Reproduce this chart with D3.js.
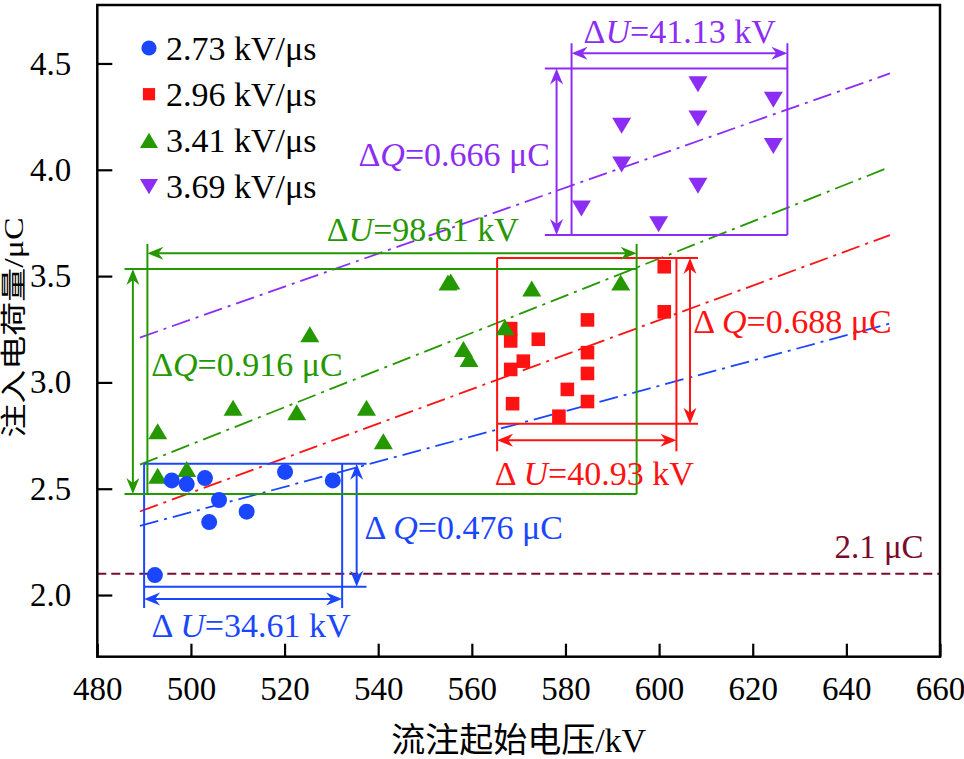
<!DOCTYPE html>
<html><head><meta charset="utf-8">
<script src="https://cdn.jsdelivr.net/npm/d3@7"></script>
<style>body{margin:0;background:#fff}svg{display:block}</style>
</head><body>
<script>
// ---------- data ----------
const seriesNames = ["2.73 kV/μs", "2.96 kV/μs", "3.41 kV/μs", "3.69 kV/μs"];
const blueU = [492.3, 495.9, 499.1, 503.0, 506.0, 503.9, 511.9, 520.1, 530.3];
const blueQ = [2.094, 2.539, 2.522, 2.550, 2.447, 2.343, 2.392, 2.579, 2.539];
const redU = [601.1, 601.1, 568.3, 568.3, 574.2, 584.7, 584.7, 571.0, 568.3, 584.7, 580.4, 568.7, 584.7, 578.6];
const redQ = [3.544, 3.332, 3.253, 3.195, 3.203, 3.294, 3.140, 3.100, 3.061, 3.042, 2.967, 2.900, 2.910, 2.841];
const greenU = [492.9, 492.9, 499.1, 509.0, 522.6, 525.4, 537.5, 541.1, 554.9, 555.5, 558.2, 559.4, 567.1, 572.8, 591.8];
const greenQ = [2.770, 2.561, 2.593, 2.881, 2.860, 3.226, 2.881, 2.723, 3.470, 3.475, 3.157, 3.110, 3.259, 3.442, 3.470];
const purpleU = [608.3, 624.4, 592.0, 608.3, 624.4, 592.0, 608.3, 583.4, 599.9];
const purpleQ = [4.402, 4.329, 4.207, 4.241, 4.112, 4.025, 3.925, 3.818, 3.744];
// fitted trend lines [U, Q] endpoints
const fitBlue = [[489.1, 2.325], [649.3, 3.277]];
const fitRed = [[489.1, 2.393], [649.3, 3.693]];
const fitGreen = [[489.1, 2.613], [649.3, 4.013]];
const fitPurple = [[489.1, 3.211], [649.3, 4.453]];
// ranges marked by boxes: [U0, U1], [Q0, Q1]
const boxBlueU = [490.0, 532.3], boxBlueQ = [2.039, 2.617];
const boxRedU = [565.4, 603.7], boxRedQ = [2.805, 3.585];
const boxGreenU = [490.7, 595.2], boxGreenQ = [2.475, 3.533];
const boxPurpleU = [581.3, 627.4], boxPurpleQ = [3.693, 4.476];
const thresholdQ = 2.1;
const xTicks = [480, 500, 520, 540, 560, 580, 600, 620, 640, 660];
const yTicks = [2.0, 2.5, 3.0, 3.5, 4.0, 4.5];
const xTitle = "流注起始电压/kV";
const yTitle = "注入电荷量/μC";

// ---------- setup ----------
const W = 964, H = 759;
const FONT = "'Liberation Serif','Times New Roman','Noto Sans CJK SC',serif";
const C = {blue: "#1a46ff", red: "#ff1212", green: "#259800", purple: "#8b2df5", dark: "#7c0a2c"};
const svg = d3.select("body").append("svg").attr("width", W).attr("height", H)
  .style("font-family", FONT);
const L = 97.3, R = 940, T = 5, B = 656.7;
const x = d3.scaleLinear().domain([480, 660]).range([L, R]);
const y = d3.scaleLinear().domain([1.71, 4.775]).range([B, T]);

// threshold line
svg.append("line").attr("x1", L).attr("x2", R).attr("y1", y(thresholdQ)).attr("y2", y(thresholdQ))
  .attr("stroke", C.dark).attr("stroke-width", 2).attr("stroke-dasharray", "9,5");
svg.append("text").attr("x", x(656.5)).attr("y", y(2.175)).attr("text-anchor", "end")
  .attr("font-size", 33).attr("fill", C.dark).text("2.1 μC");

// trend lines
const line = d3.line().x(d => x(d[0])).y(d => y(d[1]));
[[fitBlue, C.blue], [fitRed, C.red], [fitGreen, C.green], [fitPurple, C.purple]].forEach(([d, c]) => {
  svg.append("path").datum(d).attr("d", line).attr("fill", "none").attr("stroke", c)
    .attr("stroke-width", 1.8).attr("stroke-dasharray", "19,6,3,6");
});

// arrowhead: tip at (tx,ty), direction angle in degrees
function arrowHead(g, tx, ty, ang, c) {
  g.append("path").attr("d", "M0,0 L-16,-6.5 L-11,0 L-16,6.5 Z")
    .attr("transform", `translate(${tx},${ty}) rotate(${ang})`).attr("fill", c);
}
function seg(g, x1, y1, x2, y2, c) {
  g.append("line").attr("x1", x1).attr("y1", y1).attr("x2", x2).attr("y2", y2)
    .attr("stroke", c).attr("stroke-width", 2);
}
// box annotation
function box(uR, qR, c, o) {
  const g = svg.append("g");
  const X0 = x(uR[0]), X1 = x(uR[1]), Y0 = y(qR[0]), Y1 = y(qR[1]);
  const ua = y(o.uArrowQ), ue = y(o.uExtQ), qa = x(o.qArrowU), qe = x(o.qExtU);
  const vTop = Math.min(Y1, ue), vBot = Math.max(Y0, ue);
  seg(g, X0, vTop, X0, vBot, c); seg(g, X1, vTop, X1, vBot, c);
  const hL = Math.min(X0, qe), hR = Math.max(X1, qe);
  seg(g, hL, Y0, hR, Y0, c); seg(g, hL, Y1, hR, Y1, c);
  seg(g, X0 + 4, ua, X1 - 4, ua, c);
  arrowHead(g, X0, ua, 180, c); arrowHead(g, X1, ua, 0, c);
  seg(g, qa, Y1 + 4, qa, Y0 - 4, c);
  arrowHead(g, qa, Y1, -90, c); arrowHead(g, qa, Y0, 90, c);
}
box(boxBlueU, boxBlueQ, C.blue, {uArrowQ: 1.981, uExtQ: 1.939, qArrowU: 535.4, qExtU: 537.5});
box(boxRedU, boxRedQ, C.red, {uArrowQ: 2.728, uExtQ: 2.676, qArrowU: 606.6, qExtU: 608.3});
box(boxGreenU, boxGreenQ, C.green, {uArrowQ: 3.607, uExtQ: 3.651, qArrowU: 487.6, qExtU: 485.8});
box(boxPurpleU, boxPurpleQ, C.purple, {uArrowQ: 4.548, uExtQ: 4.595, qArrowU: 578.1, qExtU: 575.6});

// annotation labels
function label(px, py, anchor, c, sym, val, gap) {
  const t = svg.append("text").attr("x", px).attr("y", py).attr("text-anchor", anchor)
    .attr("font-size", 34).attr("fill", c);
  t.append("tspan").text("Δ" + (gap ? "\u2009" : ""));
  t.append("tspan").attr("font-style", "italic").text(sym);
  t.append("tspan").text("=" + val);
}
label(x(604.4), y(4.598), "middle", C.purple, "U", "41.13 kV", false);
label(x(576.7), y(4.019), "end", C.purple, "Q", "0.666 μC", false);
label(x(529.0), y(3.667), "start", C.green, "U", "98.61 kV", false);
label(x(491.5), y(3.030), "start", C.green, "Q", "0.916 μC", false);
label(x(607.3), y(3.231), "start", C.red, "Q", "0.688 μC", true);
label(x(564.9), y(2.519), "start", C.red, "U", "40.93 kV", true);
label(x(537.1), y(2.264), "start", C.blue, "Q", "0.476 μC", true);
label(x(491.6), y(1.803), "start", C.blue, "U", "34.61 kV", true);

// markers
const shapes = {
  circle: "M8,0A8,8 0 1,1 -8,0A8,8 0 1,1 8,0Z",
  square: "M-6.8,-6.8H6.8V6.8H-6.8Z",
  up: "M0,-8L9.5,8H-9.5Z",
  down: "M0,8L9.5,-8H-9.5Z"
};
function pts(U, Q, shape, c) {
  svg.append("g").selectAll("path").data(U.map((u, i) => [u, Q[i]])).join("path")
    .attr("d", shapes[shape]).attr("fill", c)
    .attr("transform", d => `translate(${x(d[0])},${y(d[1])})`);
}
pts(redU, redQ, "square", C.red);
pts(greenU, greenQ, "up", C.green);
pts(blueU, blueQ, "circle", C.blue);
pts(purpleU, purpleQ, "down", C.purple);

// legend
const legShapes = ["circle", "square", "up", "down"], legColors = [C.blue, C.red, C.green, C.purple];
seriesNames.forEach((n, i) => {
  const cy = 48 + i * 46.2;
  svg.append("path").attr("d", shapes[legShapes[i]]).attr("fill", legColors[i])
    .attr("transform", `translate(149,${cy}) scale(${legShapes[i] === "square" ? 0.9 : 0.95})`);
  svg.append("text").attr("x", 166).attr("y", cy + 11.5).attr("font-size", 34).attr("fill", "#000").text(n);
});

// frame and axes
svg.append("rect").attr("x", L).attr("y", T).attr("width", R - L).attr("height", B - T)
  .attr("fill", "none").attr("stroke", "#000").attr("stroke-width", 2.5);
const xAxis = d3.axisBottom(x).tickValues(xTicks).tickSize(-13).tickPadding(20).tickFormat(d3.format("d"));
const gx = svg.append("g").attr("transform", `translate(0,${B})`).call(xAxis);
const yAxis = d3.axisLeft(y).tickValues(yTicks).tickSize(-15).tickPadding(26).tickFormat(d3.format(".1f"));
const gy = svg.append("g").attr("transform", `translate(${L},0)`).call(yAxis);
[gx, gy].forEach(g => {
  g.select(".domain").remove();
  g.selectAll(".tick line").attr("stroke", "#000").attr("stroke-width", 2.2);
  g.selectAll(".tick text").attr("font-family", FONT).attr("font-size", 33).attr("fill", "#000");
});
gx.selectAll(".tick text").attr("dy", "0.71em");

// axis titles
svg.append("text").attr("x", (L + R) / 2).attr("y", 752).attr("text-anchor", "middle")
  .attr("font-size", 34).text(xTitle);
svg.append("text").attr("transform", "translate(14,327.5) rotate(-90) scale(1,0.78)")
  .attr("text-anchor", "middle").attr("dominant-baseline", "central")
  .attr("font-size", 34).text(yTitle);
</script>
</body></html>
